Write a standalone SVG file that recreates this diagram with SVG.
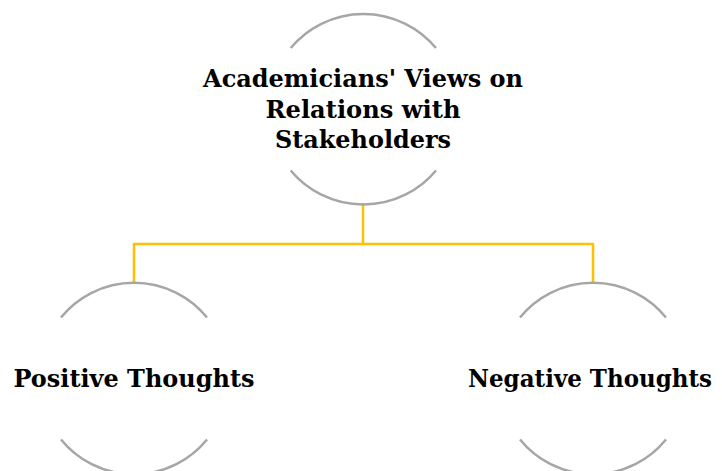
<svg xmlns="http://www.w3.org/2000/svg" width="722" height="471" viewBox="0 0 722 471">
<style>
.arc{fill:none;stroke:#a6a6a6;stroke-width:2.5}
.conn{fill:none;stroke:#ffc000;stroke-width:2.5}
.lbl{font-family:"DejaVu Serif","Liberation Serif",serif;font-weight:bold;font-size:25px;fill:#000;text-anchor:middle}
.sm{font-size:24px}
</style>
<rect width="722" height="471" fill="#fff"/>
<g id="connectors">
<path class="conn" d="M363,203 V244 M134,244 H593 M134,243 V283 M593,243 V283"/>
</g>
<g id="root">
<path class="arc" d="M290.7,48 A94.5,94.5 0 0 1 436,48"/>
<path class="arc" d="M290.7,170.5 A94.5,94.5 0 0 0 436,170.5"/>
<text class="lbl" x="363" y="87" textLength="320" lengthAdjust="spacingAndGlyphs">Academicians' Views on</text>
<text class="lbl" x="363" y="118" textLength="195" lengthAdjust="spacingAndGlyphs">Relations with</text>
<text class="lbl" x="363" y="148" textLength="176" lengthAdjust="spacingAndGlyphs">Stakeholders</text>
</g>
<g id="positive">
<path class="arc" d="M61,317.5 A94,94 0 0 1 207,317.5"/>
<path class="arc" d="M61,439.5 A94,94 0 0 0 207,439.5"/>
<text class="lbl" x="134" y="387" textLength="241" lengthAdjust="spacingAndGlyphs">Positive Thoughts</text>
</g>
<g id="negative">
<path class="arc" d="M520,317.5 A94,94 0 0 1 666,317.5"/>
<path class="arc" d="M520,439.5 A94,94 0 0 0 666,439.5"/>
<text class="lbl sm" x="590" y="387" textLength="244" lengthAdjust="spacingAndGlyphs">Negative Thoughts</text>
</g>
</svg>
